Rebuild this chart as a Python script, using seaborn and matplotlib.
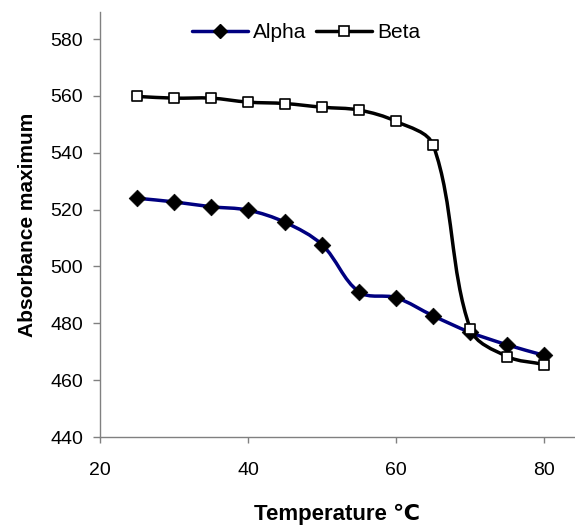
import numpy as np
import matplotlib
matplotlib.use('Agg')
import matplotlib.pyplot as plt
from matplotlib.path import Path
from matplotlib.patches import PathPatch
from matplotlib.lines import Line2D
import seaborn as sns
import pandas as pd

# 資料
temperature = [25, 30, 35, 40, 45, 50, 55, 60, 65, 70, 75, 80]
alpha = [524, 522.7, 521, 519.8, 515.5, 507.6, 491, 489, 482.6, 476.8, 472.4, 468.7]
beta = [559.8, 559.2, 559.2, 557.8, 557.3, 556, 555, 551, 542.6, 478, 468.3, 465.5]

df = pd.DataFrame({'Temperature': temperature, 'Alpha': alpha, 'Beta': beta})

sns.set_style('white')
plt.rcParams['font.family'] = ['Liberation Sans', 'DejaVu Sans']
plt.rcParams['text.color'] = 'black'
plt.rcParams['axes.labelcolor'] = 'black'


def smooth_path(ax, x, y):
    # Excel 風格的平滑線，在像素座標中計算控制點
    pts = ax.transData.transform(np.column_stack([x, y]).astype(float))
    n = len(pts)

    def unit(v):
        return v / np.hypot(*v)

    verts = [pts[0]]
    codes = [Path.MOVETO]
    for i in range(n - 1):
        p0 = pts[max(i - 1, 0)]
        p1 = pts[i]
        p2 = pts[i + 1]
        p3 = pts[min(i + 2, n - 1)]
        d = np.hypot(*(p2 - p1)) / 3
        c1 = p1 + unit(p2 - p0) * d
        c2 = p2 - unit(p3 - p1) * d
        verts += [c1, c2, p2]
        codes += [Path.CURVE4] * 3
    verts = ax.transData.inverted().transform(np.array(verts))
    return Path(verts, codes)


fig = plt.figure(figsize=(5.75, 5.28), dpi=100)
ax = fig.add_axes([100 / 575, 1 - 437 / 528, 474 / 575, 425 / 528])

ax.set_xlim(20, 84)
ax.set_ylim(440, 589.5)
ax.set_xticks([20, 40, 60, 80])
ax.set_yticks(range(440, 581, 20))

alpha_color = '#000080'
ax.add_patch(PathPatch(smooth_path(ax, df['Temperature'], df['Alpha']), fill=False,
                       edgecolor=alpha_color, lw=2.5, zorder=2))
sns.scatterplot(data=df, x='Temperature', y='Alpha', marker='D', s=72,
                color='black', edgecolor='black', linewidth=0.5, zorder=3, ax=ax)

ax.add_patch(PathPatch(smooth_path(ax, df['Temperature'], df['Beta']), fill=False,
                       edgecolor='black', lw=2.5, zorder=4))
sns.scatterplot(data=df, x='Temperature', y='Beta', marker='s', s=48,
                color='white', edgecolor='black', linewidth=1.2, zorder=5, ax=ax)

ax.set_xlim(20, 84)
ax.set_ylim(440, 589.5)

for side in ['top', 'right']:
    ax.spines[side].set_visible(False)
for side in ['left', 'bottom']:
    ax.spines[side].set_color('#808080')
    ax.spines[side].set_linewidth(1.0)

ax.tick_params(axis='y', direction='out', length=5, width=1, color='#808080',
               labelcolor='black', labelsize=14, pad=7, left=True)
ax.tick_params(axis='x', direction='out', length=4, width=1, color='#808080',
               labelcolor='black', labelsize=14, pad=14, bottom=True)

ax.set_xlabel('Temperature \u2103', fontsize=16, fontweight='bold', labelpad=18)
ax.set_ylabel('Absorbance maximum', fontsize=15, fontweight='bold', labelpad=10)

handles = [
    Line2D([], [], color=alpha_color, lw=2.5, marker='D', markersize=7,
           markerfacecolor='black', markeredgecolor='black'),
    Line2D([], [], color='black', lw=2.5, marker='s', markersize=6.5,
           markerfacecolor='white', markeredgecolor='black', markeredgewidth=1.2),
]
fig.legend(handles, ['Alpha', 'Beta'], loc='center', ncol=2, frameon=False,
           bbox_to_anchor=(306 / 575, 1 - 33 / 528), fontsize=15,
           handlelength=2.7, handletextpad=0.25, columnspacing=0.45)

fig.savefig('out.png', dpi=100)
